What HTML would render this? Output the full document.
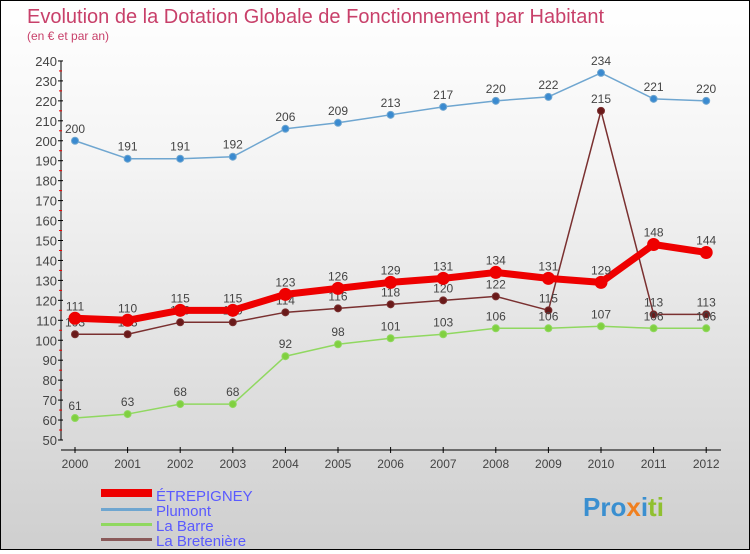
<!DOCTYPE html>
<html><head><meta charset="utf-8"><style>
body{margin:0;width:750px;height:550px;overflow:hidden;font-family:"Liberation Sans",sans-serif}
#c{position:absolute;left:0;top:0;width:748px;height:548px;border:1px solid #000;background:linear-gradient(#fff,#f4f4f4 30%,#cfcfcf)}
</style></head><body>
<div id="c">
<svg id="s" width="748" height="548" xmlns="http://www.w3.org/2000/svg" font-family="Liberation Sans, sans-serif">
<text x="26" y="22" font-size="20" fill="#c8406a">Evolution de la Dotation Globale de Fonctionnement par Habitant</text>
<text x="26" y="39" font-size="12" fill="#c8406a">(en € et par an)</text>
<g id="axes"></g><g id="series"></g>
<g>
<rect x="100" y="488" width="51" height="8" fill="#e00"/>
<text x="155" y="500" font-size="15" fill="#5a5aff">ÉTREPIGNEY</text>
<rect x="100" y="507" width="51" height="3" fill="#6fa6d0"/>
<text x="155" y="515" font-size="15" fill="#5a5aff">Plumont</text>
<rect x="100" y="522" width="51" height="3" fill="#90d860"/>
<text x="155" y="530" font-size="15" fill="#5a5aff">La Barre</text>
<rect x="100" y="537" width="51" height="3" fill="#8a5a5a"/>
<text x="155" y="545" font-size="15" fill="#5a5aff">La Bretenière</text>
</g>
<text x="582" y="515" font-size="26" font-weight="bold"><tspan fill="#3a8fd0">Pro</tspan><tspan fill="#f08020">x</tspan><tspan fill="#3a8fd0">i</tspan><tspan fill="#90c030">ti</tspan></text>
</svg></div>
<script>
const years=["2000","2001","2002","2003","2004","2005","2006","2007","2008","2009","2010","2011","2012"];
const etrepigney=[111,110,115,115,123,126,129,131,134,131,129,148,144];
const plumont=[200,191,191,192,206,209,213,217,220,222,234,221,220];
const laBarre=[61,63,68,68,92,98,101,103,106,106,107,106,106];
const laBreteniere=[103,103,109,109,114,116,118,120,122,115,215,113,113];
const yTicks=[50,60,70,80,90,100,110,120,130,140,150,160,170,180,190,200,210,220,230,240];
const NS="http://www.w3.org/2000/svg";
const X=i=>74+i*52.6;
const Y=v=>439-(v-50)*1.995;
function mk(p,t,a){const e=document.createElementNS(NS,t);for(const k in a)e.setAttribute(k,a[k]);p.appendChild(e);return e;}
const ax=document.getElementById('axes');
let l=mk(ax,'line',{x1:60,y1:Y(240),x2:60,y2:Y(50),stroke:'#000'});

l=mk(ax,'line',{x1:60,y1:449,x2:720,y2:449,stroke:'#000'});

yTicks.forEach((v,i)=>{
 mk(ax,'line',{x1:57,y1:Y(v),x2:62,y2:Y(v),stroke:'#000'});
 if(i<yTicks.length-1)mk(ax,'line',{x1:58,y1:Y(v+5),x2:61,y2:Y(v+5),stroke:'#e00'});
 const t=mk(ax,'text',{x:56,y:Y(v)+5,'font-size':13,'text-anchor':'end',fill:'#444'});t.textContent=v;
 
});
years.forEach((y,i)=>{
 mk(ax,'line',{x1:X(i),y1:446,x2:X(i),y2:452,stroke:'#000'});
 const t=mk(ax,'text',{x:X(i),y:467,'font-size':12,'text-anchor':'middle',fill:'#444'});t.textContent=y;
 
});
const sg=document.getElementById('series');
function draw(d,col,dot,w,r,name){
 const g=mk(sg,'g',{});
 
 const p=mk(g,'polyline',{points:d.map((v,i)=>X(i)+','+Y(v)).join(' '),fill:'none',stroke:col,'stroke-width':w,'stroke-linejoin':'round'});
 
 d.forEach((v,i)=>{
  const c=mk(g,'circle',{cx:X(i),cy:Y(v),r:r,fill:dot,stroke:col,'stroke-width':1});
  
  const t=mk(g,'text',{x:X(i),y:Y(v)-8,'font-size':12,'text-anchor':'middle',fill:'#444'});t.textContent=v;
  
 });
}
draw(laBreteniere,'#7a3030','#6a1a1a',1.5,3.5,'la-breteniere');
draw(laBarre,'#90d860','#80d040',1.5,3.5,'la-barre');
draw(plumont,'#6fa6d0','#3a8ad0',1.5,3.5,'plumont');
draw(etrepigney,'#ee0000','#ee0000',7,6,'etrepigney');
</script>
</body></html>
